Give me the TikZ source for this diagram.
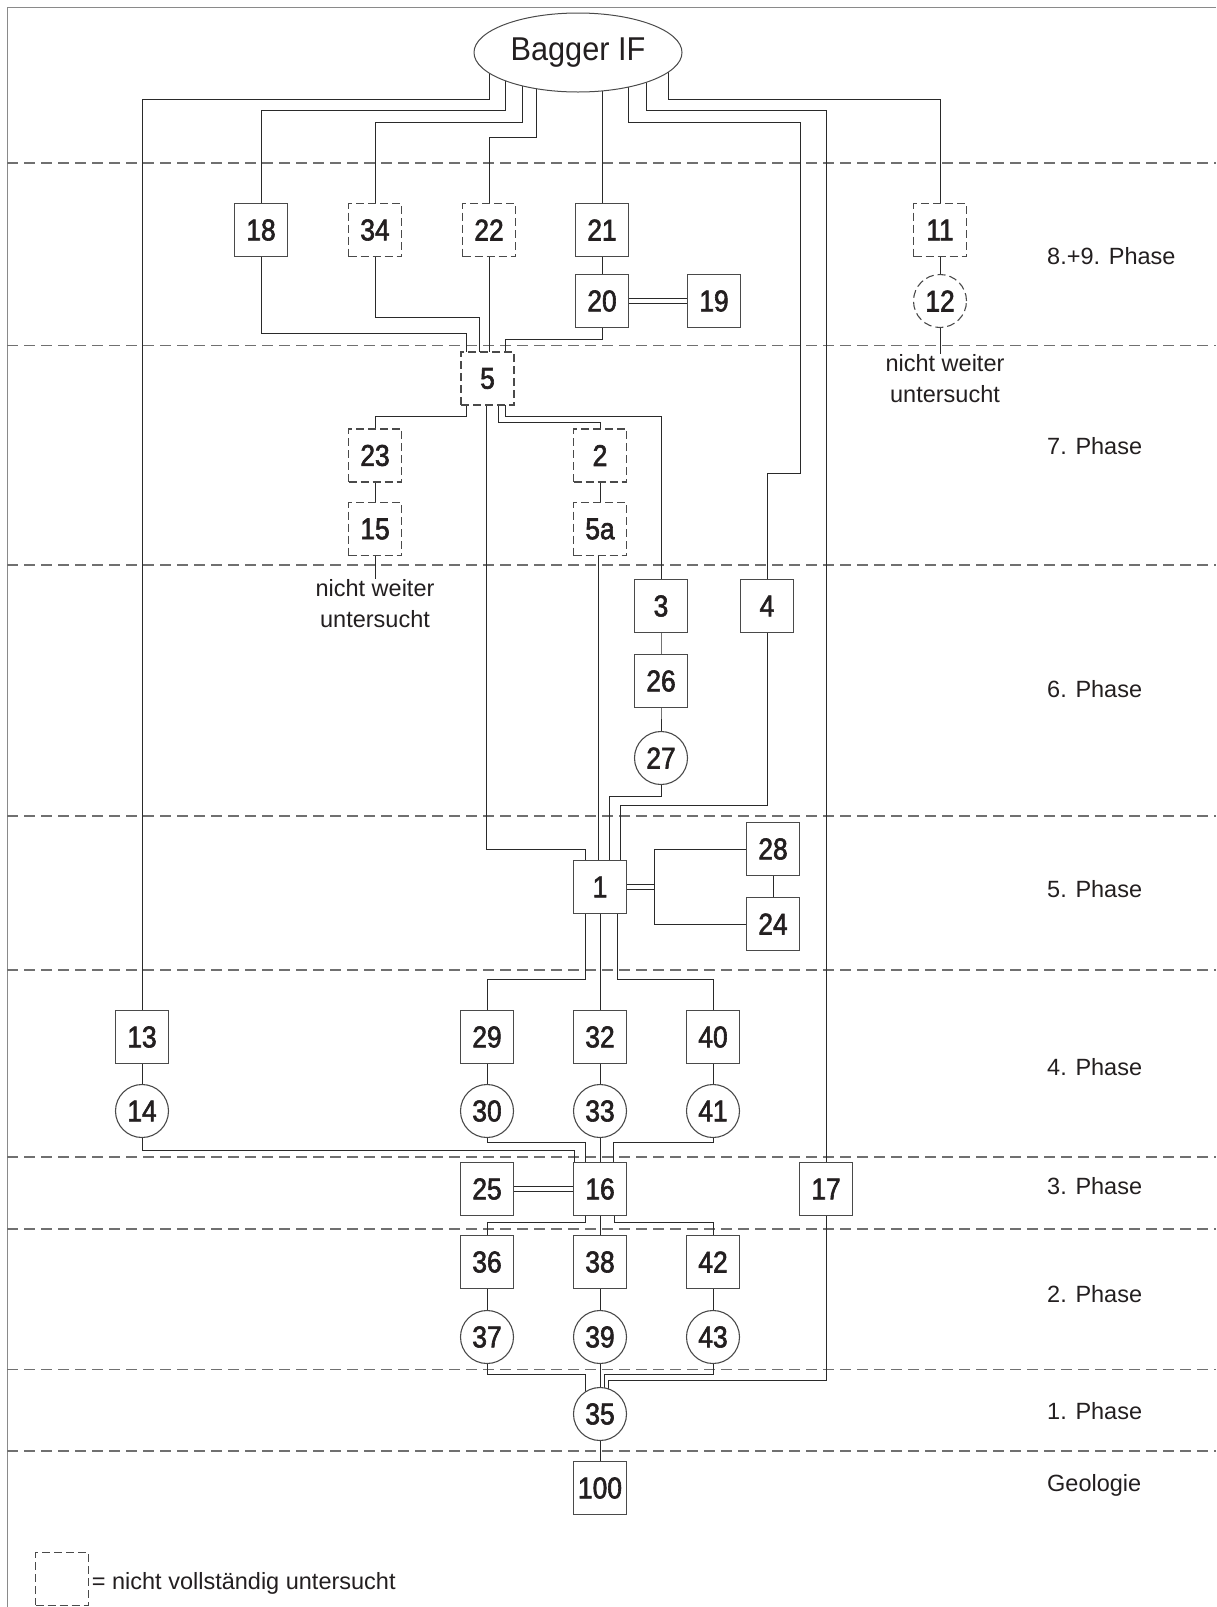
\documentclass[tikz,border=0pt]{standalone}
\usepackage{fontspec}
\setmainfont{Liberation Sans}
\newfontfamily\numf[FakeStretch=0.88,FakeBold=2]{Liberation Sans}
\newfontfamily\bagf[FakeStretch=0.93]{Liberation Sans}
\usetikzlibrary{shapes.geometric}
\pgfdeclarelayer{bg}
\pgfsetlayers{bg,main}
\definecolor{txt}{HTML}{231F20}
\definecolor{boxc}{HTML}{4A4A4A}
\definecolor{linec}{HTML}{2A2A2A}
\definecolor{phasec}{HTML}{707070}
\definecolor{framec}{HTML}{8A8A8A}
\begin{document}
\begin{tikzpicture}[x=1pt,y=-1pt,
  box/.style={draw=boxc, fill=white, line width=1.1pt, minimum width=53pt, minimum height=53pt, inner sep=0pt, text=txt, font=\numf\fontsize{30}{30}\selectfont},
  dbox/.style={box, dash pattern=on 8pt off 4pt},
  circ/.style={box, circle, minimum size=53pt},
  dcirc/.style={circ, dash pattern=on 8pt off 4pt},
  conn/.style={draw=linec, line width=0.95pt},
  dbl/.style={draw=linec, line width=0.9pt, double=white, double distance=3.5pt},
  phaseline/.style={draw=phasec, line width=1.3pt, dash pattern=on 11pt off 6pt},
  framel/.style={draw=framec, line width=1.6pt},
  lbl/.style={text=txt, inner sep=0pt, font=\fontsize{23.5}{31.7}\selectfont},
  note/.style={lbl, align=center}
]
\useasboundingbox (0,0) rectangle (1216,1607);

% nodes
\node[draw=boxc, fill=white, line width=1pt, ellipse, minimum width=208pt, minimum height=79pt, inner sep=0pt, text=txt, font=\bagf\fontsize{33}{33}\selectfont] (bag) at (578,52.5) {Bagger IF};

\node[box]  (n18) at (261,230) {18};
\node[dbox] (n34) at (375,230) {34};
\node[dbox] (n22) at (489,230) {22};
\node[box]  (n21) at (602,230) {21};
\node[dbox] (n11) at (940,230) {11};
\node[box]  (n20) at (602,301) {20};
\node[box]  (n19) at (714,301) {19};
\node[dcirc] (n12) at (940,301) {12};
\node[note, anchor=north] (t12) at (945,354) {nicht weiter\\untersucht};

\node[dbox] (n5) at (487.5,378.5) {5};
\node[dbox] (n23) at (375,455.5) {23};
\node[dbox] (n2) at (600,455.5) {2};
\node[dbox] (n15) at (375,529) {15};
\node[dbox] (n5a) at (600,529) {5a};
\node[note, anchor=north] (t15) at (375,579) {nicht weiter\\untersucht};

\node[box] (n3) at (661,606) {3};
\node[box] (n4) at (767,606) {4};
\node[box] (n26) at (661,681) {26};
\node[circ] (n27) at (661,758) {27};

\node[box] (n28) at (773,849) {28};
\node[box] (n1) at (600,887) {1};
\node[box] (n24) at (773,924) {24};
\coordinate (j1) at (654.3,887);

\node[box] (n13) at (142,1037) {13};
\node[box] (n29) at (487,1037) {29};
\node[box] (n32) at (600,1037) {32};
\node[box] (n40) at (713,1037) {40};
\node[circ] (n14) at (142,1111) {14};
\node[circ] (n30) at (487,1111) {30};
\node[circ] (n33) at (600,1111) {33};
\node[circ] (n41) at (713,1111) {41};

\node[box] (n25) at (487,1189) {25};
\node[box] (n16) at (600,1189) {16};
\node[box] (n17) at (826,1189) {17};

\node[box] (n36) at (487,1262) {36};
\node[box] (n38) at (600,1262) {38};
\node[box] (n42) at (713,1262) {42};
\node[circ] (n37) at (487,1337) {37};
\node[circ] (n39) at (600,1337) {39};
\node[circ] (n43) at (713,1337) {43};

\node[circ] (n35) at (600,1414) {35};
\node[box] (n100) at (600,1488) {100};

% phase labels
\node[lbl, anchor=base west] (p89) at (1047,264.5) {8.+9. Phase};
\node[lbl, anchor=base west] (p7) at (1047,454.5) {7. Phase};
\node[lbl, anchor=base west] (p6) at (1047,697.5) {6. Phase};
\node[lbl, anchor=base west] (p5) at (1047,897.5) {5. Phase};
\node[lbl, anchor=base west] (p4) at (1047,1075.5) {4. Phase};
\node[lbl, anchor=base west] (p3) at (1047,1194) {3. Phase};
\node[lbl, anchor=base west] (p2) at (1047,1302.5) {2. Phase};
\node[lbl, anchor=base west] (p1) at (1047,1419.5) {1. Phase};
\node[lbl, anchor=base west] (pg) at (1047,1491.5) {Geologie};

% legend
\node[dbox, minimum width=52.6pt, minimum height=52.7pt] (leg) at (62,1578.7) {};
\node[lbl, anchor=base west] (legt) at (91.7,1589.3) {= nicht vollständig untersucht};

\begin{pgfonlayer}{bg}
\fill[white] (0,0) rectangle (1216,1607);
% frame and phase separators
\draw[framel] (1216,7.3) -- (7.3,7.3) -- (7.3,1607);
\foreach \yy in {163,345.5,565,816,970,1157,1229,1369.5,1451}
  \draw[phaseline] (7.3,\yy) -- (1216,\yy);

% from Bagger IF
\draw[conn] ([xshift=-89pt]bag.center) |- (142,99) -- (n13.center);
\draw[conn] ([xshift=-72.4pt]bag.center) |- (261,110) -- (n18.center);
\draw[conn] ([xshift=-55.6pt]bag.center) |- (375,122) -- (n34.center);
\draw[conn] ([xshift=-41.3pt]bag.center) |- (489,137) -- (n22.center);
\draw[conn] ([xshift=24pt]bag.center) -- (n21.center);
\draw[conn] ([xshift=50.6pt]bag.center) |- (800.5,122) |- (767,473) -- (n4.center);
\draw[conn] ([xshift=68pt]bag.center) |- (826,110) -- (n17.center);
\draw[conn] ([xshift=90pt]bag.center) |- (940,99) -- (n11.center);

% 8.+9. phase
\draw[conn] (n21.center) -- (n20.center);
\draw[dbl] (n20.center) -- (n19.center);
\draw[conn] (n11.center) -- (n12.center);
\draw[conn] (n12.center) -- (n12.center |- t12.north);
\draw[conn] (n18.center) |- (466.7,333) -- ([xshift=-20.8pt]n5.center);
\draw[conn] (n34.center) |- (479.4,317) -- ([xshift=-8.1pt]n5.center);
\draw[conn] (n22.center) -- (n22.center |- n5.center);
\draw[conn] (n20.center) |- (505,339) -- ([xshift=17.5pt]n5.center);

% 7. phase
\draw[conn] ([xshift=-20.8pt]n5.center) |- (375,416) -- (n23.center);
\draw[conn] ([xshift=17.5pt]n5.center) |- (661,416) -- (n3.center);
\draw[conn] ([xshift=10.7pt]n5.center) |- (600,422.7) -- (n2.center);
\draw[conn] ([xshift=-1pt]n5.center) |- (585.7,849) -- ([xshift=-14.3pt]n1.center);
\draw[conn] (n23.center) -- (n15.center);
\draw[conn] (n15.center) -- (n15.center |- t15.north);
\draw[conn] (n2.center) -- (n5a.center);
\draw[conn] ([xshift=-2pt]n5a.center) -- ([xshift=-2pt]n1.center);

% 6. phase
\draw[conn] (n3.center) -- (n26.center) -- (n27.center);
\draw[conn] (n27.center) |- (609.3,796) -- ([xshift=9.3pt]n1.center);
\draw[conn] (n4.center) |- (620,805.7) -- ([xshift=20pt]n1.center);

% 5. phase
\draw[dbl] (n1.center) -- (j1);
\draw[conn] (n28.center) -| (j1) |- (n24.center);
\draw[conn] (n28.center) -- (n24.center);
\draw[conn] ([xshift=-14.3pt]n1.center) |- (487,979) -- (n29.center);
\draw[conn] (n1.center) -- (n32.center);
\draw[conn] ([xshift=17pt]n1.center) |- (713,979) -- (n40.center);

% 4. phase
\draw[conn] (n13.center) -- (n14.center);
\draw[conn] (n29.center) -- (n30.center);
\draw[conn] (n32.center) -- (n33.center);
\draw[conn] (n40.center) -- (n41.center);
\draw[conn] (n14.center) |- (574.5,1150) -- ([xshift=-25.5pt]n16.center);
\draw[conn] (n30.center) |- (585.6,1142.7) -- ([xshift=-14.4pt]n16.center);
\draw[conn] (n33.center) -- (n16.center);
\draw[conn] (n41.center) |- (613.4,1142.7) -- ([xshift=13.4pt]n16.center);

% 3. phase
\draw[dbl] (n25.center) -- (n16.center);
\draw[conn] ([xshift=-14.4pt]n16.center) |- (487,1222.7) -- (n36.center);
\draw[conn] (n16.center) -- (n38.center);
\draw[conn] ([xshift=14.9pt]n16.center) |- (713,1222.7) -- (n42.center);
\draw[conn] (n17.center) |- (608.3,1380) -- ([xshift=8.3pt]n35.center);

% 2. phase
\draw[conn] (n36.center) -- (n37.center);
\draw[conn] (n38.center) -- (n39.center);
\draw[conn] (n42.center) -- (n43.center);
\draw[conn] (n37.center) |- (585.7,1374) -- ([xshift=-14.3pt]n35.center);
\draw[conn] (n39.center) -- (n35.center);
\draw[conn] (n43.center) |- (604.3,1374) -- ([xshift=4.3pt]n35.center);

% 1. phase
\draw[conn] (n35.center) -- (n100.center);
\end{pgfonlayer}
\end{tikzpicture}
\end{document}
